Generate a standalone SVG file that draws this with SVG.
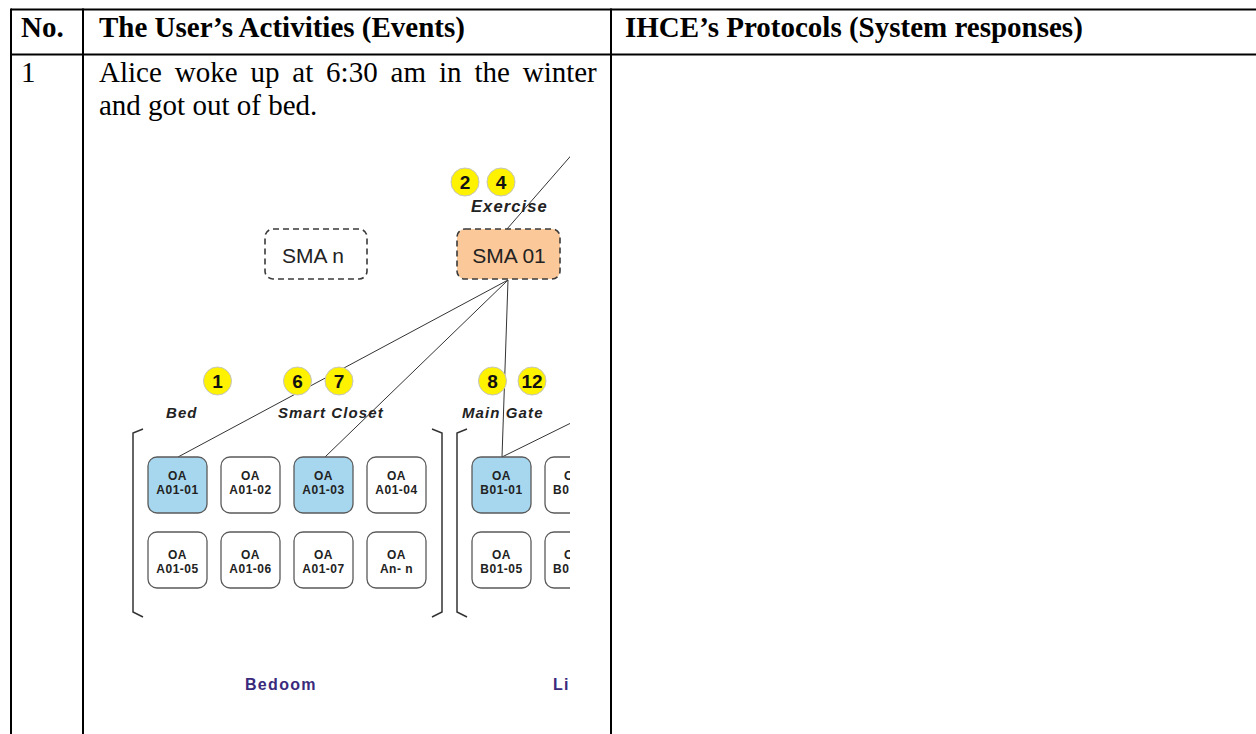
<svg xmlns="http://www.w3.org/2000/svg" width="1256" height="734" viewBox="0 0 1256 734">
  <style>
    .grid { stroke: #000; stroke-width: 2; fill: none; }
    .hd { font-family: "Liberation Serif", "Times New Roman", serif; font-weight: bold; font-size: 29px; fill: #000; }
    .bd { font-family: "Liberation Serif", "Times New Roman", serif; font-size: 29px; fill: #000; }
    .sma { stroke: #3a3a3a; stroke-width: 1.6; stroke-dasharray: 6 4; }
    .smat { font-family: "Liberation Sans", Arial, sans-serif; font-size: 21px; fill: #222; text-anchor: middle; }
    .tag circle { fill: #fff200; stroke: #c4c4c4; stroke-width: 1; }
    .tag text { font-family: "Liberation Sans", Arial, sans-serif; font-weight: bold; font-size: 19px; fill: #111; text-anchor: middle; }
    .lbl { font-family: "Liberation Sans", Arial, sans-serif; font-weight: bold; font-style: italic; font-size: 15px; letter-spacing: 1.1px; fill: #222; }
    .oa rect { stroke: #5a5a5a; stroke-width: 1.3; fill: #fff; }
    .oa.on rect { fill: #a6d7ef; }
    .oa text { font-family: "Liberation Sans", Arial, sans-serif; font-weight: bold; font-size: 12px; letter-spacing: 0.5px; fill: #222; text-anchor: middle; }
    .oa text.cut { text-anchor: start; }
    .br { stroke: #333; stroke-width: 1.5; fill: none; }
    .wire { stroke: #333; stroke-width: 1; fill: none; }
    .room { font-family: "Liberation Sans", Arial, sans-serif; font-weight: bold; font-size: 16px; letter-spacing: 1.3px; fill: #3a2a7c; }
  </style>
  <defs>
    <!-- the sketch is cut off at its right edge -->
    <clipPath id="pane">
      <rect x="100" y="140" width="470" height="594"/>
    </clipPath>
  </defs>

  <rect width="1256" height="734" fill="#fff"/>

  <!-- table grid -->
  <g id="table">
    <line class="grid" x1="11" y1="9.5" x2="1256" y2="9.5"/>
    <line class="grid" x1="11" y1="54.5" x2="1256" y2="54.5"/>
    <line class="grid" x1="11" y1="8.5" x2="11" y2="734"/>
    <line class="grid" x1="83" y1="8.5" x2="83" y2="734"/>
    <line class="grid" x1="611" y1="8.5" x2="611" y2="734"/>
  </g>

  <!-- table text -->
  <g id="header">
    <text class="hd" x="21" y="37">No.</text>
    <text class="hd" x="99" y="37">The User’s Activities (Events)</text>
    <text class="hd" x="625" y="37">IHCE’s Protocols (System responses)</text>
  </g>
  <g id="row1">
    <text class="bd" x="21" y="82">1</text>
    <text class="bd" y="82"><tspan x="99">Alice</tspan><tspan x="174.7">woke</tspan><tspan x="250.4">up</tspan><tspan x="292.3">at</tspan><tspan x="326.1">6:30</tspan><tspan x="390.6">am</tspan><tspan x="438.9">in</tspan><tspan x="474.4">the</tspan><tspan x="522.7">winter</tspan></text>
    <text class="bd" x="99" y="115">and got out of bed.</text>
  </g>

  <!-- home network sketch -->
  <g id="sketch" clip-path="url(#pane)">
    <g id="connectors">
      <line class="wire" x1="508" y1="280" x2="178" y2="457"/>
      <line class="wire" x1="508" y1="280" x2="325" y2="457"/>
      <line class="wire" x1="508" y1="280" x2="502" y2="457"/>
      <line class="wire" x1="507" y1="229" x2="575" y2="151"/>
      <line class="wire" x1="502" y1="457" x2="575" y2="421"/>
    </g>

    <g id="sma-n">
      <rect class="sma" x="265" y="229" width="102" height="50" rx="8" fill="#fff"/>
      <text class="smat" x="313" y="263">SMA n</text>
    </g>
    <g id="sma-01">
      <rect class="sma" x="457" y="229" width="103" height="50" rx="8" fill="#fbc999"/>
      <text class="smat" x="509" y="263">SMA 01</text>
    </g>

    <g id="tags" class="tag">
      <circle cx="465" cy="182" r="14"/><text x="465" y="189">2</text>
      <circle cx="501" cy="182" r="14"/><text x="501" y="189">4</text>
      <circle cx="217.5" cy="381" r="14"/><text x="217.5" y="388">1</text>
      <circle cx="297.5" cy="381" r="14"/><text x="297.5" y="388">6</text>
      <circle cx="339" cy="381" r="14"/><text x="339" y="388">7</text>
      <circle cx="492.5" cy="381" r="14"/><text x="492.5" y="388">8</text>
      <circle cx="532" cy="381" r="14"/><text x="532" y="388">12</text>
    </g>

    <g id="labels">
      <text class="lbl" x="471" y="212" style="font-size:16.5px;letter-spacing:1.1px">Exercise</text>
      <text class="lbl" x="166" y="418">Bed</text>
      <text class="lbl" x="278" y="418">Smart Closet</text>
      <text class="lbl" x="462" y="418">Main Gate</text>
    </g>

    <g id="brackets">
      <path class="br" d="M143,429 L133,433 L133,612 L143,617"/>
      <path class="br" d="M432,429 L442,433 L442,612 L432,617"/>
      <path class="br" d="M467,429 L457,433 L457,612 L467,617"/>
    </g>

    <g id="oa-a01-01" class="oa on"><rect x="148" y="457" width="59" height="56" rx="9"/><text x="177.5" y="480">OA</text><text x="177.5" y="494">A01-01</text></g>
    <g id="oa-a01-02" class="oa"><rect x="221" y="457" width="59" height="56" rx="9"/><text x="250.5" y="480">OA</text><text x="250.5" y="494">A01-02</text></g>
    <g id="oa-a01-03" class="oa on"><rect x="294" y="457" width="59" height="56" rx="9"/><text x="323.5" y="480">OA</text><text x="323.5" y="494">A01-03</text></g>
    <g id="oa-a01-04" class="oa"><rect x="367" y="457" width="59" height="56" rx="9"/><text x="396.5" y="480">OA</text><text x="396.5" y="494">A01-04</text></g>
    <g id="oa-b01-01" class="oa on"><rect x="472" y="457" width="59" height="56" rx="9"/><text x="501.5" y="480">OA</text><text x="501.5" y="494">B01-01</text></g>
    <g id="oa-b-top" class="oa"><rect x="545" y="457" width="59" height="56" rx="9"/><text class="cut" x="564" y="480">O</text><text class="cut" x="553" y="494">B0</text></g>

    <g id="oa-a01-05" class="oa"><rect x="148" y="532" width="59" height="56" rx="9"/><text x="177.5" y="559">OA</text><text x="177.5" y="573">A01-05</text></g>
    <g id="oa-a01-06" class="oa"><rect x="221" y="532" width="59" height="56" rx="9"/><text x="250.5" y="559">OA</text><text x="250.5" y="573">A01-06</text></g>
    <g id="oa-a01-07" class="oa"><rect x="294" y="532" width="59" height="56" rx="9"/><text x="323.5" y="559">OA</text><text x="323.5" y="573">A01-07</text></g>
    <g id="oa-an-n" class="oa"><rect x="367" y="532" width="59" height="56" rx="9"/><text x="396.5" y="559">OA</text><text x="396.5" y="573">An- n</text></g>
    <g id="oa-b01-05" class="oa"><rect x="472" y="532" width="59" height="56" rx="9"/><text x="501.5" y="559">OA</text><text x="501.5" y="573">B01-05</text></g>
    <g id="oa-b-bottom" class="oa"><rect x="545" y="532" width="59" height="56" rx="9"/><text class="cut" x="564" y="559">O</text><text class="cut" x="553" y="573">B0</text></g>

    <g id="rooms">
      <text class="room" x="245" y="690">Bedoom</text>
      <text class="room" x="553" y="690">Li</text>
    </g>
  </g>
</svg>
